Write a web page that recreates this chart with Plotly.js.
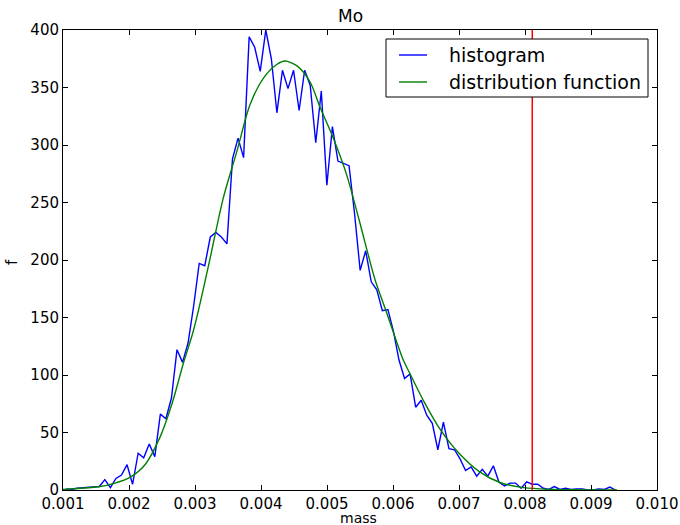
<!DOCTYPE html>
<html>
<head>
<meta charset="utf-8">
<script src="https://cdn.plot.ly/plotly-3.0.1.min.js"></script>
<style>
html,body{margin:0;padding:0;background:#fff;}
#chart{width:680px;height:525px;}
</style>
</head>
<body>
<div id="chart"></div>
<script>
// Histogram (bin centres and heights)
const histMass = [
0.0010455,0.0011296,0.0012137,0.0012978,0.0013819,0.0014660,0.0015500,0.0016341,0.0017182,0.0018023,
0.0018864,0.0019705,0.0020546,0.0021387,0.0022228,0.0023069,0.0023909,0.0024750,0.0025591,0.0026432,
0.0027273,0.0028114,0.0028955,0.0029796,0.0030637,0.0031478,0.0032318,0.0033159,0.0034000,0.0034841,
0.0035682,0.0036523,0.0037364,0.0038205,0.0039046,0.0039887,0.0040727,0.0041568,0.0042409,0.0043250,
0.0044091,0.0044932,0.0045773,0.0046614,0.0047455,0.0048296,0.0049136,0.0049977,0.0050818,0.0051659,
0.0052500,0.0053341,0.0054182,0.0055023,0.0055864,0.0056705,0.0057545,0.0058386,0.0059227,0.0060068,
0.0060909,0.0061750,0.0062591,0.0063432,0.0064273,0.0065114,0.0065954,0.0066795,0.0067636,0.0068477,
0.0069318,0.0070159,0.0071000,0.0071841,0.0072682,0.0073523,0.0074363,0.0075204,0.0076045,0.0076886,
0.0077727,0.0078568,0.0079409,0.0080250,0.0081091,0.0081932,0.0082772,0.0083613,0.0084454,0.0085295,
0.0086136,0.0086977,0.0087818,0.0088659,0.0089500,0.0090341,0.0091181,0.0092022,0.0092863,0.0093704
];
const histF = [
1,0.5,1.5,2,2,2.5,3,9,2,10,
13,22,5,32,28,40,29,66,62,80,
122,111,128,160,197,195,220,224,220,214,
288,306,289,394,385,364,400,375,328,365,
349,365,330,365,352,302,347,265,316,286,
284,282,240,191,208,181,174,156,157,138,
113,97,101,72,78,65,58,35,59,36,
35,27,17,20,12,18,12,21,7,3.5,
6,6,1.5,7,5,5,1.5,0.5,3,0.5,
1.5,0.5,1,1,0,0,1,0.5,2.5,0
];
// Fitted distribution function
const distMass = [
0.001000,0.001561,0.001788,0.002015,0.002242,0.002470,0.002662,0.002823,0.002974,0.003076,
0.003227,0.003429,0.003632,0.003833,0.004035,0.004238,0.004364,0.004541,0.004742,0.004894,
0.005095,0.005298,0.005500,0.005727,0.005905,0.006030,0.006156,0.006258,0.006459,0.006712,
0.007015,0.007318,0.007621,0.007924,0.008227,0.008727,0.009394
];
const distF = [
0.5,3,6,11,22,46,77,110,138,162,
201,254,294,335,358,370,373,369,355,333,
306,274,232,183,154,133,113,101,78,53,
31,15.5,6.5,2.5,1,0.2,0
];
// Vertical red marker
const markerMass = 0.00811;

const seriesNames = ["histogram", "distribution function"];
const seriesColors = ["#0000ff", "#008000"];
const xTicks = [0.001,0.002,0.003,0.004,0.005,0.006,0.007,0.008,0.009,0.010];
const xTickText = ["0.001","0.002","0.003","0.004","0.005","0.006","0.007","0.008","0.009","0.010"];
const yTicks = [0,50,100,150,200,250,300,350,400];

const FONT = "DejaVu Sans, Liberation Sans, sans-serif";

const traces = [
  {x: histMass, y: histF, type: "scatter", mode: "lines", name: seriesNames[0],
   line: {color: seriesColors[0], width: 1.4}},
  {x: distMass, y: distF, type: "scatter", mode: "lines", name: seriesNames[1],
   line: {color: seriesColors[1], width: 1.4, shape: "spline", smoothing: 0.8}}
];

const axisCommon = {
  showgrid: false, zeroline: false, showline: true, linecolor: "#000", linewidth: 1,
  mirror: "ticks", ticks: "inside", ticklen: 5, tickcolor: "#000", tickwidth: 1,
  tickfont: {family: FONT, size: 15, color: "#000"}
};

// plot area in pixels: x 63..657, y 30..490
const PL = 63, PR = 657, PT = 30, PB = 490;
const px2x = p => (p - PL) / (PR - PL);
const px2y = p => (PB - p) / (PB - PT);

const legendShapes = [
  {type: "rect", xref: "paper", yref: "paper", x0: px2x(386), x1: px2x(648), y0: px2y(97), y1: px2y(39),
   line: {color: "#000", width: 1}, fillcolor: "#fff", layer: "above"}
];
const legendRows = [55, 82];
const legendAnn = [];
seriesNames.forEach((n, i) => {
  legendShapes.push({type: "line", xref: "paper", yref: "paper", x0: px2x(399), x1: px2x(427),
    y0: px2y(legendRows[i]), y1: px2y(legendRows[i]), line: {color: seriesColors[i], width: 1.4}, layer: "above"});
  legendAnn.push({xref: "paper", yref: "paper", x: px2x(447), y: px2y(legendRows[i]), xanchor: "left", yanchor: "middle",
    text: n, showarrow: false, font: {family: FONT, size: 19, color: "#000"}});
});

const layout = {
  width: 680, height: 525,
  margin: {l: PL, r: 680 - PR, t: PT, b: 525 - PB, pad: 0},
  paper_bgcolor: "#fff", plot_bgcolor: "#fff",
  font: {family: FONT, color: "#000"},
  showlegend: false,
  xaxis: Object.assign({}, axisCommon, {
    range: [0.001, 0.010], tickvals: xTicks, ticktext: xTickText
  }),
  yaxis: Object.assign({}, axisCommon, {
    range: [0, 400], tickvals: yTicks
  }),
  annotations: [
    {xref: "paper", yref: "paper", x: px2x(350), y: px2y(16), xanchor: "center", yanchor: "middle",
     text: "Mo", showarrow: false, font: {family: FONT, size: 17, color: "#000"}},
    {xref: "paper", yref: "paper", x: px2x(358), y: px2y(518), xanchor: "center", yanchor: "middle",
     text: "mass", showarrow: false, font: {family: FONT, size: 14, color: "#000"}},
    {xref: "paper", yref: "paper", x: px2x(12), y: px2y(262), xanchor: "center", yanchor: "middle",
     text: "f", textangle: -90, showarrow: false, font: {family: FONT, size: 15, color: "#000"}}
  ].concat(legendAnn),
  shapes: [
    {type: "line", xref: "x", yref: "paper", x0: markerMass, x1: markerMass, y0: 0, y1: 1,
     line: {color: "#ff0000", width: 1.5}, layer: "above"}
  ].concat(legendShapes)
};

Plotly.newPlot("chart", traces, layout, {staticPlot: true, displayModeBar: false});
</script>
</body>
</html>
